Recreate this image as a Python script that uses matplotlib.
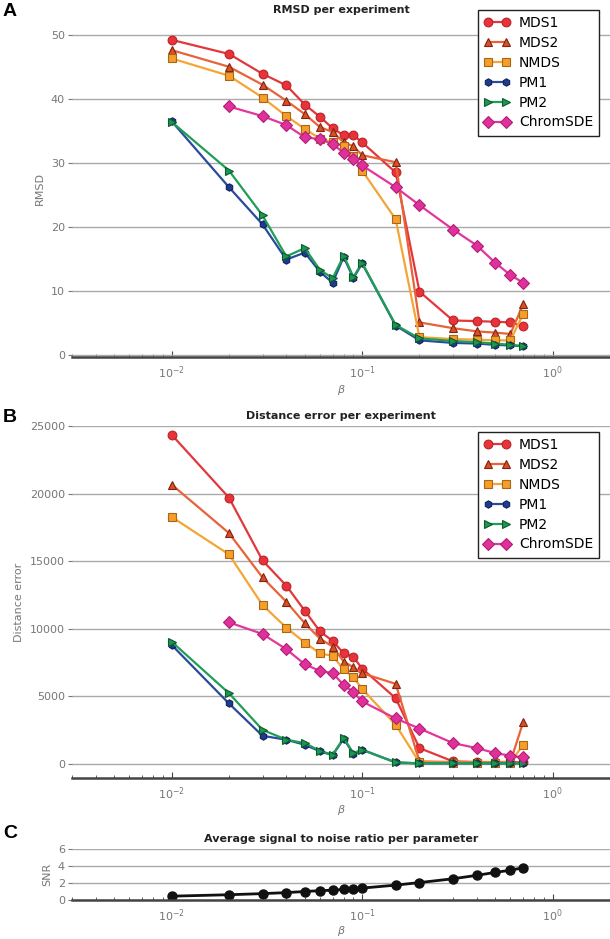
import numpy as np
import matplotlib
matplotlib.use("Agg")
import matplotlib.pyplot as plt

# beta values (x axis)
beta = [0.01, 0.02, 0.03, 0.04, 0.05, 0.06, 0.07, 0.08, 0.09, 0.1,
        0.15, 0.2, 0.3, 0.4, 0.5, 0.6, 0.7]
beta_chrom = beta[1:]

# RMSD per experiment
rmsd_mds1 = [49.2, 47.0, 43.9, 42.1, 39.1, 37.2, 35.4, 34.3, 34.3, 33.2, 28.5, 9.9, 5.4, 5.3, 5.2, 5.1, 4.5]
rmsd_mds2 = [47.6, 45.0, 42.2, 39.7, 37.6, 35.6, 34.8, 33.2, 32.6, 31.2, 30.1, 5.1, 4.2, 3.7, 3.5, 3.3, 7.9]
rmsd_nmds = [46.3, 43.6, 40.2, 37.3, 35.3, 33.8, 33.2, 32.6, 31.1, 28.8, 21.2, 2.8, 2.5, 2.4, 2.3, 2.3, 6.4]
rmsd_pm1 = [36.5, 26.2, 20.4, 14.9, 16.0, 13.0, 11.3, 15.3, 12.0, 14.3, 4.6, 2.3, 1.9, 1.8, 1.6, 1.5, 1.4]
rmsd_pm2 = [36.4, 28.8, 21.8, 15.4, 16.7, 13.3, 12.0, 15.5, 12.2, 14.4, 4.7, 2.6, 2.2, 2.0, 1.8, 1.6, 1.4]
rmsd_chrom = [38.8, 37.3, 35.9, 34.0, 33.7, 32.9, 31.6, 30.6, 29.6, 26.2, 23.4, 19.6, 17.1, 14.4, 12.5, 11.3]

# Distance error per experiment
dist_mds1 = [24360, 19700, 15060, 13190, 11340, 9820, 9100, 8190, 7920, 7060, 4870, 1180, 200, 150, 150, 150, 120]
dist_mds2 = [20670, 17080, 13800, 12000, 10410, 9280, 8690, 7580, 7160, 6720, 5930, 200, 150, 150, 150, 150, 3100]
dist_nmds = [18280, 15500, 11760, 10090, 8980, 8190, 8000, 7010, 6420, 5560, 2900, 120, 100, 100, 100, 100, 1430]
dist_pm1 = [8810, 4480, 2090, 1800, 1430, 940, 660, 1870, 760, 1060, 120, 50, 50, 50, 50, 50, 50]
dist_pm2 = [9050, 5240, 2530, 1800, 1550, 980, 690, 1920, 810, 1060, 120, 60, 60, 60, 60, 60, 60]
dist_chrom = [10480, 9620, 8490, 7380, 6890, 6720, 5860, 5310, 4630, 3370, 2630, 1550, 1180, 810, 620, 490]

# Average SNR per parameter
snr = [0.45, 0.62, 0.75, 0.87, 1.0, 1.1, 1.15, 1.25, 1.3, 1.4, 1.75, 2.05, 2.5, 2.9, 3.25, 3.5, 3.8]

labels = ["MDS1", "MDS2", "NMDS", "PM1", "PM2", "ChromSDE"]
styles = [
    dict(marker="o", color="#e3373c", mfc="#e8333a", mec="#b82328", ms=6.3),
    dict(marker="^", color="#e8623a", mfc="#d94f26", mec="#7e2410", ms=6.3),
    dict(marker="s", color="#f5a535", mfc="#f59f28", mec="#a9651a", ms=5.8),
    dict(marker="h", color="#2a4a9c", mfc="#1f3a8f", mec="#0f2258", ms=5.3),
    dict(marker=">", color="#1f9e55", mfc="#1a9850", mec="#0d5a2e", ms=6.3),
    dict(marker="D", color="#e5359c", mfc="#e0309a", mec="#b01f78", ms=5.8),
]

grey = "#777777"


def style_axes(ax, title, ylabel, xpad=3):
    ax.set_xscale("log")
    ax.set_xlim(0.003, 2.0)
    for s in ["top", "right", "left"]:
        ax.spines[s].set_visible(False)
    ax.spines["bottom"].set_color("#444444")
    ax.spines["bottom"].set_linewidth(1.8)
    ax.yaxis.grid(True, color="#aaaaaa", linewidth=1.0)
    ax.set_axisbelow(True)
    ax.tick_params(axis="y", colors=grey, labelsize=8, length=3, width=0.8, pad=2)
    ax.tick_params(axis="x", which="major", direction="in", length=4, colors="#444444",
                   labelcolor=grey, labelsize=8, pad=5)
    ax.tick_params(axis="x", which="minor", direction="in", length=2, colors="#444444")
    ax.set_title(title, fontsize=8, fontweight="bold", color="#222222", pad=5)
    ax.set_ylabel(ylabel, color=grey, fontsize=8)
    ax.set_xlabel(r"$\beta$", color=grey, fontsize=8, labelpad=xpad)


fig = plt.figure(figsize=(6.1, 9.39), dpi=100)
H = 939.0
W = 610.0
left = 72 / W

axA = fig.add_axes([left, (H - 357) / H, 1 - left, 337 / H])
axB = fig.add_axes([left, (H - 778) / H, 1 - left, 352 / H])
axC = fig.add_axes([left, (H - 900) / H, 1 - left, 51 / H])

series_A = [rmsd_mds1, rmsd_mds2, rmsd_nmds, rmsd_pm1, rmsd_pm2, rmsd_chrom]
series_B = [dist_mds1, dist_mds2, dist_nmds, dist_pm1, dist_pm2, dist_chrom]

for ax, series in [(axA, series_A), (axB, series_B)]:
    for lab, st, ys in zip(labels, styles, series):
        xs = beta_chrom if lab == "ChromSDE" else beta
        ax.plot(xs, ys, label=lab, linewidth=1.6, markeredgewidth=0.8, **st)

style_axes(axA, "RMSD per experiment", "RMSD", xpad=2)
axA.set_ylim(-0.3, 52.3)
axA.set_yticks([0, 10, 20, 30, 40, 50])

style_axes(axB, "Distance error per experiment", "Distance error", xpad=1)
axB.set_ylim(-1030, 25000)
axB.set_yticks([0, 5000, 10000, 15000, 20000, 25000])

axC.plot(beta, snr, color="#111111", marker="o", ms=6.5, linewidth=2)
style_axes(axC, "Average signal to noise ratio per parameter", "SNR", xpad=0)
axC.set_ylim(0, 6)
axC.set_yticks([0, 2, 4, 6])

for ax, top in [(axA, 10), (axB, 432)]:
    leg = ax.legend(loc="upper left", bbox_to_anchor=(478 / W, 1 - top / H),
                    bbox_transform=fig.transFigure, fontsize=10, numpoints=2,
                    fancybox=False, framealpha=1, borderaxespad=0,
                    labelspacing=0.42, handlelength=1.9, handletextpad=0.6,
                    borderpad=0.45)
    leg.get_frame().set_edgecolor("#222222")
    leg.get_frame().set_linewidth(1.0)

for letter, y in [("A", 12), ("B", 417), ("C", 833)]:
    fig.text(3 / W, 1 - y / H, letter, fontsize=14, fontweight="bold",
             family="Liberation Sans", va="center", ha="left")

fig.savefig("out.png", dpi=100)
